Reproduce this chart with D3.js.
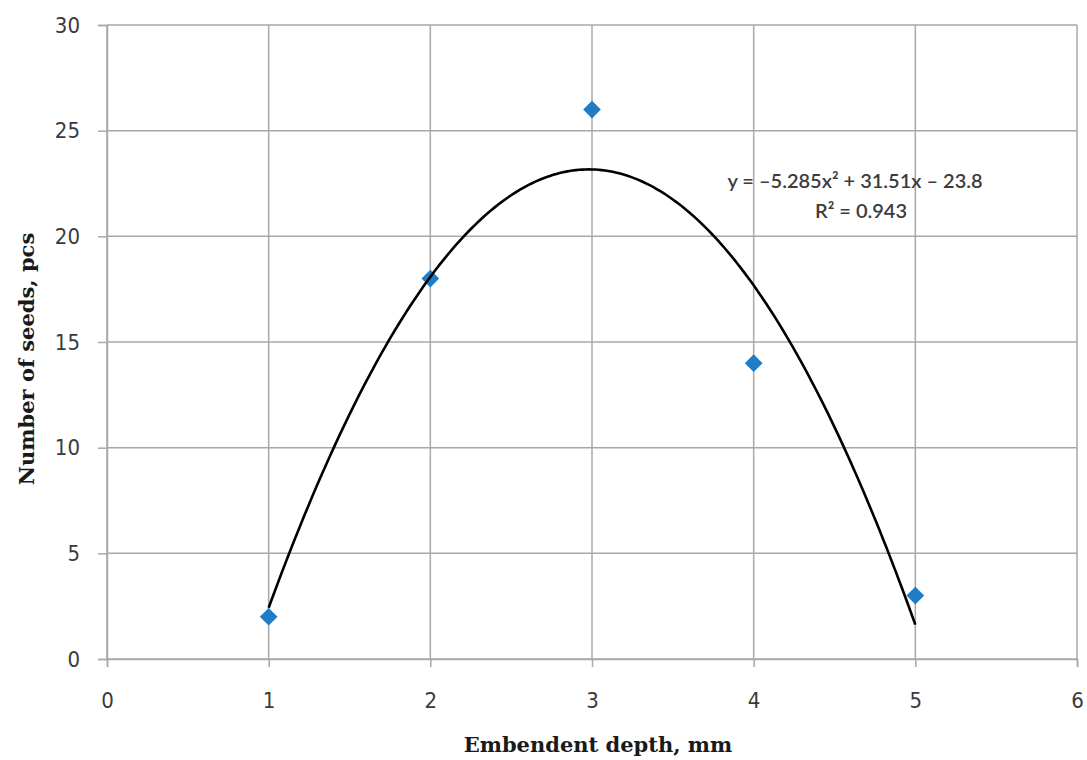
<!DOCTYPE html>
<html>
<head>
<meta charset="utf-8">
<script src="https://cdn.jsdelivr.net/npm/d3@7"></script>
<style>
  body { margin: 0; background: #fff; }
  .tick text { font-family: "DejaVu Sans", sans-serif; font-stretch: condensed; font-size: 22px; fill: #3a3a3a; }
  .axis-title { font-family: "DejaVu Serif", "Liberation Serif", serif; font-weight: bold; font-size: 21px; fill: #1a1a1a; }
  .eq { font-family: "Lato", "Open Sans", sans-serif; font-size: 20px; font-weight: 600; fill: #3c3c3c; }
</style>
</head>
<body>
<svg id="chart" width="1087" height="760"></svg>
<script>
// data
var depth = [1, 2, 3, 4, 5];
var seeds = [2, 18, 26, 14, 3];
var xTicks = [0, 1, 2, 3, 4, 5, 6];
var yTicks = [0, 5, 10, 15, 20, 25, 30];
// trendline coefficients from the label: a*x^2 + b*x + c
var trendCoef = [-5.285, 31.51, -23.8];
var trendRange = [1, 5];
var eqLines = ["y = \u20135.285x\u00b2 + 31.51x \u2013 23.8", "R\u00b2 = 0.943"];

var svg = d3.select("#chart");
var plotLeft = 107, plotTop = 25, plotRight = 1077, plotBottom = 659;
var gridColor = "#a8a8a8";

var x = d3.scaleLinear().domain([0, 6]).range([plotLeft, plotRight]);
var y = d3.scaleLinear().domain([0, 30]).range([plotBottom, plotTop]);

// gridlines
svg.append("g").selectAll("line").data(yTicks).join("line")
    .attr("x1", plotLeft).attr("x2", plotRight)
    .attr("y1", function(d) { return y(d); }).attr("y2", function(d) { return y(d); })
    .attr("stroke", gridColor).attr("stroke-width", 1.5);
svg.append("g").selectAll("line").data(xTicks).join("line")
    .attr("y1", plotTop).attr("y2", plotBottom)
    .attr("x1", function(d) { return x(d); }).attr("x2", function(d) { return x(d); })
    .attr("stroke", gridColor).attr("stroke-width", 1.5);

// axes
var xAxis = svg.append("g").attr("transform", "translate(0," + plotBottom + ")")
    .call(d3.axisBottom(x).tickValues(xTicks).tickSize(8).tickPadding(26).tickFormat(d3.format("d")));
var yAxis = svg.append("g").attr("transform", "translate(" + plotLeft + ",0)")
    .call(d3.axisLeft(y).tickValues(yTicks).tickSize(9).tickPadding(18).tickFormat(d3.format("d")));
[xAxis, yAxis].forEach(function(a) {
    a.select(".domain").attr("stroke", gridColor).attr("stroke-width", 1.5);
    a.selectAll(".tick line").attr("stroke", gridColor).attr("stroke-width", 1.5);
});
xAxis.selectAll(".tick text").attr("dy", "0.35em").attr("y", 41);

// points
var pts = depth.map(function(d, i) { return [d, seeds[i]]; });
svg.append("g").selectAll("path").data(pts).join("path")
    .attr("d", d3.symbol().type(d3.symbolDiamond2).size(200))
    .attr("transform", function(d) { return "translate(" + x(d[0]) + "," + y(d[1]) + ")"; })
    .attr("fill", "#1f7cc6");

// polynomial trendline
var trendX = d3.range(trendRange[0], trendRange[1] + 0.0001, 0.02);
var line = d3.line()
    .x(function(d) { return x(d); })
    .y(function(d) { return y(trendCoef[0] * d * d + trendCoef[1] * d + trendCoef[2]); });
svg.append("path").datum(trendX)
    .attr("d", line)
    .attr("fill", "none").attr("stroke", "#000").attr("stroke-width", 2.6);

// equation label
svg.append("text").attr("class", "eq").attr("x", 855).attr("y", 188)
    .attr("text-anchor", "middle").text(eqLines[0]);
svg.append("text").attr("class", "eq").attr("x", 861).attr("y", 218)
    .attr("text-anchor", "middle").text(eqLines[1]);

// axis titles
svg.append("text").attr("class", "axis-title")
    .attr("x", 598).attr("y", 752).attr("text-anchor", "middle")
    .text("Embendent depth, mm");
svg.append("text").attr("class", "axis-title")
    .attr("transform", "translate(34,359) rotate(-90)").attr("text-anchor", "middle")
    .text("Number of seeds, pcs");
</script>
</body>
</html>
